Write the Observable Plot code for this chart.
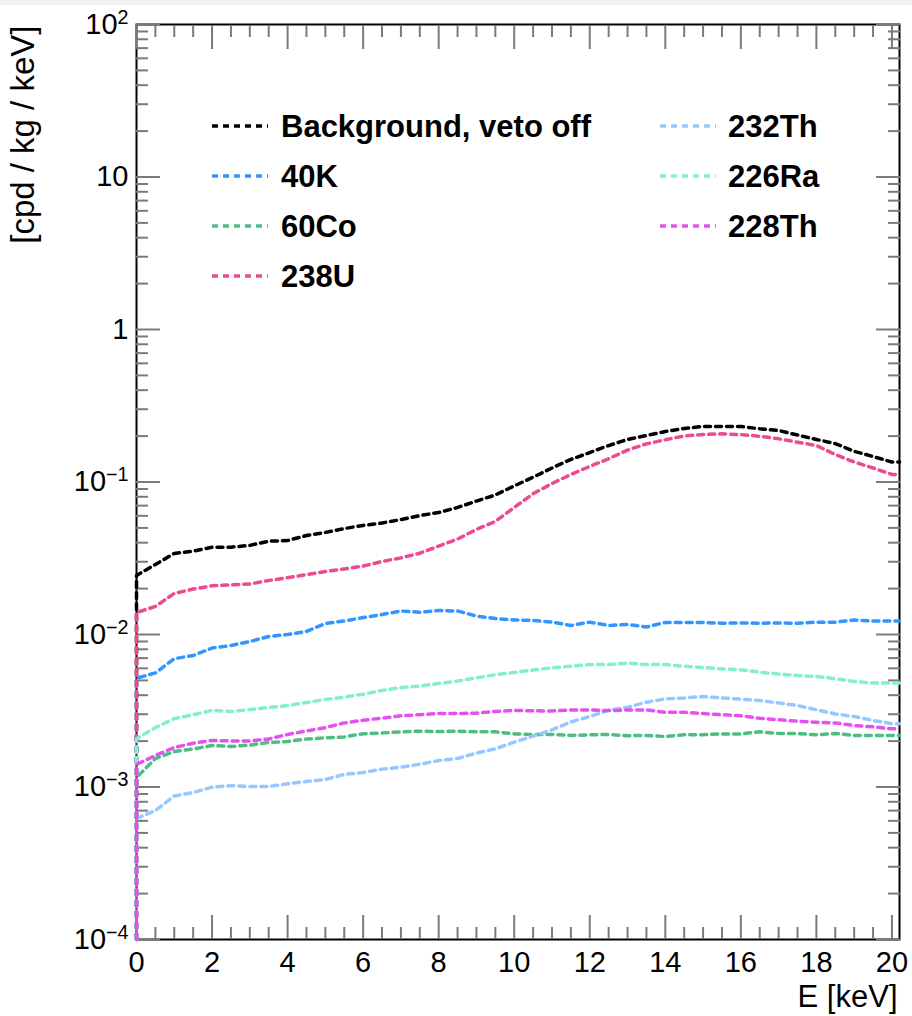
<!DOCTYPE html>
<html>
<head>
<meta charset="utf-8">
<script src="https://cdn.jsdelivr.net/npm/d3@7"></script>
<script src="https://cdn.jsdelivr.net/npm/@observablehq/plot@0.6"></script>
<style>
  body { margin: 0; background: #fff; font-family: "Liberation Sans", Arial, Helvetica, sans-serif; }
  #wrap { position: relative; width: 912px; height: 1016px; overflow: hidden; }
  .leg { position: absolute; font-weight: bold; font-size: 31px; line-height: 31px; white-space: nowrap; color: #000; }
  .legline { position: absolute; }
</style>
</head>
<body>
<div id="wrap"></div>
<script>
// ---- data ----
const energy = [0,0.5,1,1.5,2,2.5,3,3.5,4,4.5,5,5.5,6,6.5,7,7.5,8,8.5,9,9.5,10,10.5,11,11.5,12,12.5,13,13.5,14,14.5,15,15.5,16,16.5,17,17.5,18,18.5,19,19.5,20,20.2];

const background = [0.0244,0.0288,0.0340,0.0352,0.0373,0.0374,0.0384,0.0409,0.0413,0.0446,0.0467,0.0495,0.0519,0.0538,0.0567,0.0602,0.0631,0.0681,0.0750,0.0822,0.0942,0.1075,0.1236,0.1406,0.156,0.1734,0.190,0.2018,0.2143,0.2244,0.2312,0.2312,0.2312,0.2234,0.2178,0.2032,0.190,0.1786,0.159,0.1469,0.1352,0.1352];
const k40 = [0.00516,0.00560,0.00694,0.00728,0.00815,0.00847,0.00899,0.00971,0.0100,0.01047,0.0118,0.01227,0.01291,0.01352,0.01426,0.0140,0.01436,0.01426,0.0132,0.01273,0.01245,0.01236,0.01208,0.01146,0.01205,0.01146,0.01164,0.0112,0.0120,0.0120,0.0120,0.01186,0.0119,0.01186,0.0119,0.01186,0.01205,0.01205,0.01245,0.01227,0.01224,0.01224];
const co60 = [0.001153,0.001538,0.00171,0.001775,0.00187,0.001845,0.001884,0.00196,0.001986,0.002065,0.0021,0.00213,0.002234,0.00226,0.0023,0.002323,0.00231,0.002323,0.0023,0.0023,0.00223,0.00221,0.00221,0.002178,0.0022,0.00221,0.00217,0.002178,0.002143,0.0022,0.0022,0.00223,0.00223,0.0023,0.002244,0.00224,0.0022,0.002244,0.002178,0.002178,0.002178,0.002178];
const u238 = [0.01393,0.01528,0.01858,0.01986,0.02084,0.0212,0.02143,0.0226,0.02355,0.0247,0.0259,0.0269,0.0281,0.0301,0.0318,0.0341,0.0380,0.0422,0.0489,0.0551,0.0681,0.0838,0.0977,0.112,0.1265,0.1419,0.162,0.1778,0.1891,0.2004,0.2047,0.207,0.2047,0.1995,0.1919,0.1824,0.1734,0.1513,0.1352,0.1236,0.112,0.112];
const th232 = [0.000621,0.000701,0.000873,0.00092,0.000998,0.00102,0.001007,0.001007,0.00105,0.001087,0.00112,0.00121,0.001245,0.00131,0.00135,0.00141,0.00149,0.001538,0.00167,0.00178,0.00197,0.002158,0.002366,0.00267,0.0029,0.00318,0.003334,0.0036,0.00378,0.003837,0.00392,0.003837,0.00377,0.00369,0.00356,0.00342,0.00321,0.003013,0.0029,0.00273,0.0026,0.0026];
const ra226 = [0.00207,0.00245,0.00281,0.00298,0.00318,0.00313,0.00322,0.00332,0.00342,0.00358,0.00375,0.00388,0.00406,0.0043,0.00449,0.00459,0.00477,0.00495,0.0052,0.00545,0.00564,0.00585,0.00605,0.00619,0.00635,0.00635,0.00649,0.00635,0.00635,0.00619,0.00608,0.00594,0.00587,0.00566,0.00551,0.00538,0.00531,0.00513,0.00492,0.0048,0.0048,0.0048];
const th228 = [0.001406,0.00161,0.001815,0.001936,0.00202,0.002005,0.002005,0.002065,0.00221,0.00233,0.00245,0.00263,0.00274,0.00283,0.00293,0.00298,0.00303,0.00303,0.00305,0.00313,0.00318,0.00316,0.00315,0.0032,0.0032,0.00317,0.0032,0.0032,0.00309,0.00309,0.00303,0.00298,0.00293,0.00282,0.00276,0.0027,0.00266,0.00263,0.00253,0.00248,0.00241,0.00241];

const seriesNames = ["Background, veto off", "40K", "60Co", "238U", "232Th", "226Ra", "228Th"];
const seriesColors = ["#000000", "#3296ff", "#4dbe82", "#eb4b91", "#96c8ff", "#82f0c8", "#e650f0"];
const seriesValues = [background, k40, co60, u238, th232, ra226, th228];

const yFloor = 1e-4; // histograms are drawn up from the axis minimum

const xTitle = "E [keV]";
const yTitle = "[cpd / kg / keV]";
const xMajorTicks = [0,2,4,6,8,10,12,14,16,18,20];
const xMinorTicks = [0.5,1,1.5,2.5,3,3.5,4.5,5,5.5,6.5,7,7.5,8.5,9,9.5,10.5,11,11.5,12.5,13,13.5,14.5,15,15.5,16.5,17,17.5,18.5,19,19.5];
const yMajorTicks = [1e-4,1e-3,1e-2,1e-1,1,10,100];
const yMajorLabels = ["10^\u22124","10^\u22123","10^\u22122","10^\u22121","1","10","10^2"];
const yMinorTicks = [2e-4,3e-4,4e-4,5e-4,6e-4,7e-4,8e-4,9e-4,
                     2e-3,3e-3,4e-3,5e-3,6e-3,7e-3,8e-3,9e-3,
                     2e-2,3e-2,4e-2,5e-2,6e-2,7e-2,8e-2,9e-2,
                     0.2,0.3,0.4,0.5,0.6,0.7,0.8,0.9,
                     2,3,4,5,6,7,8,9,
                     20,30,40,50,60,70,80,90];

// ---- table ----
const rows = [];
seriesNames.forEach((name, i) => {
  rows.push({name, E: energy[0], v: yFloor});
  energy.forEach((E, j) => rows.push({name, E, v: seriesValues[i][j]}));
});

const tickStyle = {fill: "none", stroke: "#7a7a7a", strokeWidth: 2, label: null};

const chart = Plot.plot({
  width: 912,
  height: 1016,
  marginLeft: 136,
  marginRight: 13,
  marginTop: 24,
  marginBottom: 77,
  style: {
    fontFamily: "'Liberation Sans', Arial, Helvetica, sans-serif",
    background: "linear-gradient(#f0f0f0 0px, #f0f0f0 5px, #ffffff 5px)",
    color: "#000"
  },
  x: {domain: [0, 20.2]},
  y: {type: "log", domain: [1e-4, 100]},
  color: {domain: seriesNames, range: seriesColors},
  marks: [
    Plot.frame({stroke: "#000", strokeWidth: 2}),
    Plot.axisX({anchor: "bottom", ticks: xMajorTicks, tickSize: -24, ...tickStyle}),
    Plot.axisX({anchor: "bottom", ticks: xMinorTicks, tickSize: -12, ...tickStyle}),
    Plot.axisX({anchor: "top", ticks: xMajorTicks, tickSize: -24, ...tickStyle}),
    Plot.axisX({anchor: "top", ticks: xMinorTicks, tickSize: -12, ...tickStyle}),
    Plot.axisY({anchor: "left", ticks: yMajorTicks, tickSize: -24, ...tickStyle}),
    Plot.axisY({anchor: "left", ticks: yMinorTicks, tickSize: -12, ...tickStyle}),
    Plot.axisY({anchor: "right", ticks: yMajorTicks, tickSize: -24, ...tickStyle}),
    Plot.axisY({anchor: "right", ticks: yMinorTicks, tickSize: -12, ...tickStyle}),
    Plot.axisX({
      anchor: "bottom", ticks: xMajorTicks, tickSize: 0, tickPadding: 12, stroke: "none",
      fontSize: 29, tickFormat: d => String(d), label: null
    }),
    Plot.axisY({
      anchor: "left", ticks: yMajorTicks, tickSize: 0, tickPadding: 8, stroke: "none",
      fontSize: 29, tickFormat: d => yMajorLabels[yMajorTicks.indexOf(d)], label: null
    }),
    Plot.text([xTitle], {
      text: d => d, frameAnchor: "bottom-right", dx: -2, dy: 67,
      textAnchor: "end", lineAnchor: "bottom", fontSize: 31, fill: "#000"
    }),
    Plot.text([yTitle], {
      text: d => d, frameAnchor: "top-left", dx: -126, dy: 1, rotate: -90,
      textAnchor: "end", lineAnchor: "top", fontSize: 33, fill: "#000"
    }),
    Plot.line(rows, {x: "E", y: "v", z: "name", stroke: "name", strokeWidth: 3.5, strokeDasharray: "6 5"})
  ]
});

// superscript exponents on the y tick labels
d3.select(chart).selectAll('g[aria-label="y-axis tick label"] text').each(function () {
  const m = this.textContent.match(/^10\^(.+)$/);
  if (m) {
    const sel = d3.select(this);
    sel.text("10");
    sel.append("tspan").attr("dy", "-0.5em").attr("font-size", "0.68em").text(m[1]);
  }
});

const wrap = document.getElementById("wrap");
wrap.appendChild(chart);

// legend (inside the frame, two columns)
const legendCols = [{lineX: 212, textX: 281}, {lineX: 660, textX: 728}];
const legendRows = [126, 176, 226, 276];
seriesNames.forEach((name, i) => {
  const col = legendCols[i < 4 ? 0 : 1];
  const y = legendRows[i < 4 ? i : i - 4];
  const ns = "http://www.w3.org/2000/svg";
  const s = document.createElementNS(ns, "svg");
  s.setAttribute("width", 56); s.setAttribute("height", 10);
  s.setAttribute("class", "legline");
  s.style.left = col.lineX + "px"; s.style.top = (y - 5) + "px";
  const ln = document.createElementNS(ns, "line");
  ln.setAttribute("x1", 0); ln.setAttribute("x2", 56); ln.setAttribute("y1", 5); ln.setAttribute("y2", 5);
  ln.setAttribute("stroke", seriesColors[i]); ln.setAttribute("stroke-width", 3.5);
  ln.setAttribute("stroke-dasharray", "6 5");
  s.appendChild(ln);
  wrap.appendChild(s);
  const t = document.createElement("div");
  t.className = "leg";
  t.textContent = name;
  t.style.left = col.textX + "px";
  t.style.top = (y - 15) + "px";
  wrap.appendChild(t);
});
</script>
</body>
</html>
